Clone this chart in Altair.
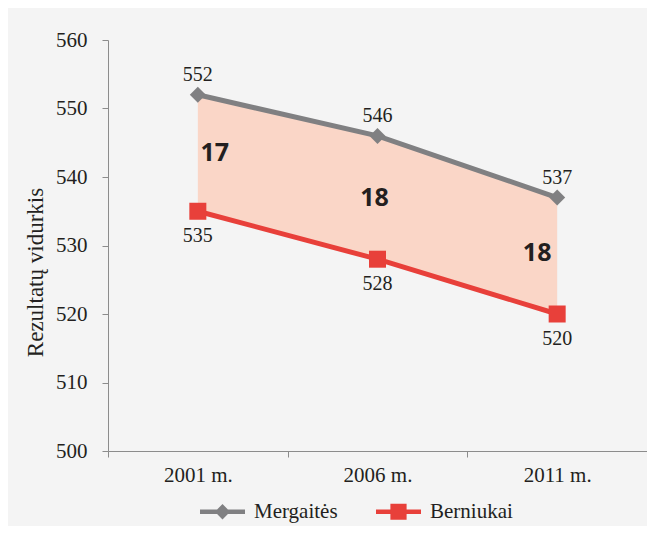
import altair as alt
import pandas as pd

years = ["2001 m.", "2006 m.", "2011 m."]
girls = [552, 546, 537]
boys = [535, 528, 520]
diffs = [17, 18, 18]
series = ["Mergaitės", "Berniukai"]
colors = ["#808082", "#e8403a"]
y_ticks = [500, 510, 520, 530, 540, 550, 560]

wide = pd.DataFrame({"year": years, "girls": girls, "boys": boys, "diff": diffs})
wide["mid"] = (wide["girls"] + wide["boys"]) / 2
long = pd.DataFrame({
    "year": years * 2,
    "series": [series[0]] * 3 + [series[1]] * 3,
    "value": girls + boys,
})

SERIF = "Liberation Serif"
TXT = "#231f20"
AX = "#8c8c8c"

def X():
    return alt.X("year:N", sort=years, bandPosition=0.5,
                 scale=alt.Scale(type="band", paddingInner=0, paddingOuter=0),
                 axis=alt.Axis(title=None, tickBand="extent", domainColor=AX, tickColor=AX,
                               tickSize=6, labelFont=SERIF, labelFontSize=21, labelColor=TXT,
                               labelPadding=7, labelAngle=0, grid=False))

yscale = alt.Scale(domain=[500, 560], nice=False, zero=False)
yaxis = alt.Axis(title="Rezultatų vidurkis", values=y_ticks, grid=False, domainColor=AX,
                 tickColor=AX, tickSize=6, labelFont=SERIF, labelFontSize=21, labelColor=TXT,
                 labelPadding=15, titleFont=SERIF, titleFontSize=23, titleFontWeight="normal",
                 titleColor=TXT, titlePadding=8, titleY=232)

def Y(field):
    return alt.Y(field, type="quantitative", scale=yscale, axis=yaxis)

area = alt.Chart(wide).mark_area(color="#fad6c7", opacity=1).encode(
    x=X(), y=Y("girls"), y2="boys")

series_layers = []
for s, c, shp, sz in zip(series, colors, ["diamond", "square"], [256, 289]):
    base = alt.Chart(long).transform_filter(alt.datum.series == s)
    series_layers.append(base.mark_line(strokeWidth=5, color=c).encode(x=X(), y=Y("value")))
    series_layers.append(base.mark_point(shape=shp, filled=True, size=sz, opacity=1, color=c)
                         .encode(x=X(), y=Y("value")))

lab_g = alt.Chart(wide).mark_text(font=SERIF, fontSize=20, color=TXT, dy=-20, baseline="middle").encode(
    x=X(), y=Y("girls"), text="girls:Q")
lab_b = alt.Chart(wide).mark_text(font=SERIF, fontSize=20, color=TXT, dy=25, baseline="middle").encode(
    x=X(), y=Y("boys"), text="boys:Q")

diff_dx = [17, -3, -20]
diff_dy = [0, 0, -3]
diff_layers = []
for yr, dx, dy in zip(years, diff_dx, diff_dy):
    diff_layers.append(
        alt.Chart(wide).transform_filter(alt.datum.year == yr).mark_text(
            font="Open Sans", fontWeight="bold", fontSize=25, color=TXT, dx=dx, dy=dy,
            baseline="middle"
        ).encode(x=X(), y=Y("mid"), text="diff:Q"))

path_g = "M-1,-0.1H1V0.1H-1Z M0,-0.34L0.34,0L0,0.34L-0.34,0Z"
path_b = "M-1,-0.1H1V0.1H-1Z M-0.36,-0.36H0.36V0.36H-0.36Z"
leg = alt.Legend(title=None, orient="none", direction="horizontal", legendX=92, legendY=449,
                 symbolSize=2025, symbolStrokeWidth=0, labelFont=SERIF, labelFontSize=21,
                 labelColor=TXT, labelOffset=9, columnPadding=38, padding=0, symbolOpacity=1)
legend_layer = alt.Chart(long).mark_point(filled=True, opacity=0, size=1).encode(
    x=X(), y=Y("value"),
    fill=alt.Fill("series:N", scale=alt.Scale(domain=series, range=colors), legend=leg),
    shape=alt.Shape("series:N", scale=alt.Scale(domain=series, range=[path_g, path_b]), legend=leg))

chart = alt.layer(area, *series_layers, lab_g, lab_b, *diff_layers, legend_layer).properties(
    width=539, height=411,
    autosize=alt.AutoSizeParams(type="none"),
    padding={"left": 100, "top": 32, "right": 0, "bottom": 75},
    background="#f4f4f4",
).configure_view(stroke=None).configure_legend(
    labelFont=SERIF, labelFontSize=21, labelColor=TXT
)

chart.save("out.html", embed_options={"renderer": "svg", "actions": False})
